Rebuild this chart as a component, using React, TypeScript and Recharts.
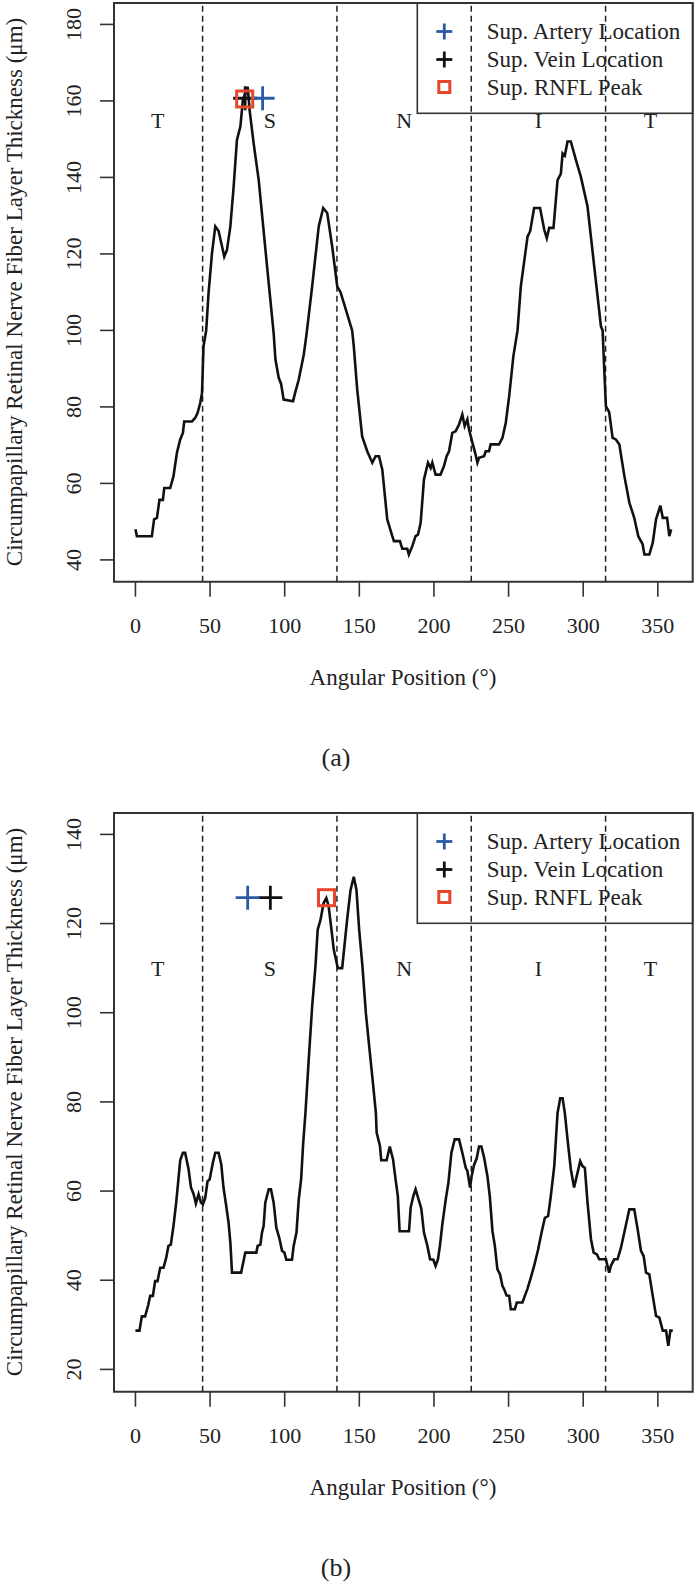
import { ComposedChart, Line, ReferenceArea, ReferenceLine, Scatter, XAxis, YAxis } from "recharts";

// angular position (deg), RNFL thickness (um)
const PROFILE_A: [number, number][] = [
  [0, 48], [1, 46.2], [11, 46.2], [12.5, 50.6], [14.4, 51], [16.1, 55.7], [18.4, 55.7], [19.3, 58.8], [23.3, 58.8],
  [25.5, 61.9], [27.8, 68], [30, 71.5], [31.8, 73.2], [32.7, 76.2], [37.9, 76.2], [40, 77.1], [41.6, 78.4], [43.4, 81],
  [44.6, 83.6], [45.6, 95.8], [47.4, 100], [49, 109.8], [51.3, 120.2], [53.5, 127.2], [55.7, 126], [58, 122],
  [59.5, 119.3], [61.3, 121], [63.6, 127.2], [65.8, 137.6], [68, 149.8], [70.3, 153.3], [72, 160.2], [75.2, 163.7],
  [76.5, 157.6], [79.2, 148.9], [82.6, 139.3], [88.2, 116.7], [92.6, 99.3], [93.8, 92.4], [96, 87.6], [97.6, 86],
  [99.3, 81.9], [105.6, 81.5], [107.2, 84], [109.4, 87.1], [112.8, 93.7], [114.6, 98.9], [118.4, 111.5], [122.8, 127.2],
  [125.8, 132], [128.5, 130.7], [131.8, 122], [135.2, 111.5], [137.4, 110], [139.6, 107.2], [143, 102.8], [145.2, 100],
  [146.3, 95.8], [148.6, 84.5], [151.9, 72.3], [155.3, 68.4], [158.7, 65.4], [160.9, 67.1], [163.2, 67.1], [165.4, 63.6],
  [168.7, 50.6], [172.1, 46.2], [173.2, 44.9], [177.2, 44.9], [178.8, 42.9], [182.1, 42.9], [183.2, 41.4], [185.5, 43.6],
  [187.7, 46.2], [189.3, 46.6], [191.1, 49.7], [193.3, 61], [196, 65.4], [197.8, 64], [198.9, 65.4], [201.1, 62.3],
  [204.4, 62.3], [206.7, 64.5], [208.5, 67.1], [210.1, 68.4], [212.3, 73.2], [214.5, 73.6], [216.8, 75.4], [219, 78],
  [220.6, 75], [222.4, 76.7], [223.5, 74.1], [225.8, 70.6], [227.6, 68], [229.1, 65.4], [230.2, 66.7], [233.6, 67.1],
  [234.7, 68.4], [236.9, 68.4], [238, 70.2], [243.6, 70.2], [245.9, 71.9], [248.1, 75.8], [250.4, 82.8], [253.2, 93.2],
  [256, 100], [258.2, 111.5], [262.7, 124.5], [264.5, 126], [267.1, 132], [271.1, 132], [273.9, 126.3], [275.6, 124.1],
  [277.2, 126.8], [280.1, 126.8], [282.8, 139.3], [285, 140.9], [286.2, 146.3], [287.7, 145.7], [289.5, 149.4],
  [291.7, 149.4], [295.1, 144.6], [298.4, 140.2], [302.9, 132.4], [307.4, 116.7], [311.9, 101], [313, 100],
  [314.1, 89.7], [315.2, 80.2], [317.4, 78.6], [319.7, 71.9], [321.9, 71.5], [324.2, 70.2], [327.5, 62.1], [330.9, 55],
  [334.2, 51], [336.9, 46.2], [339.8, 44.1], [341, 41.4], [344.3, 41.4], [346.6, 44.5], [348.8, 50.6], [351.7, 54.2],
  [353.3, 51], [356.2, 51], [357.7, 46.2], [358.9, 48],
];

const PROFILE_B: [number, number][] = [
  [0, 28.7], [2.7, 28.7], [4.3, 31.9], [6.5, 31.9], [8.7, 34.6], [9.9, 36.5], [11.7, 36.5], [13.2, 39.8], [14.8, 39.8],
  [16.6, 42.8], [18.8, 42.8], [20.6, 45], [22.1, 47.7], [23.7, 48], [25.5, 52.2], [27.3, 57.4], [28.8, 62.6], [30, 66.9],
  [31.8, 68.6], [33.3, 68.6], [35.6, 64.9], [37.2, 60.8], [39, 59.3], [40.5, 57.2], [42.3, 59.3], [43.9, 57.4], [45.2, 57],
  [46.8, 58.5], [48.3, 62.2], [49.7, 62.6], [51.9, 66.4], [53.5, 68.6], [55.7, 68.6], [57.5, 66], [59, 60.8], [60.8, 56.7],
  [62.4, 52.9], [63.6, 48.4], [64.7, 41.7], [70.8, 41.7], [73.6, 46.2], [81, 46.2], [81.9, 47.7], [83.7, 48], [84.8, 50.7],
  [85.9, 52.2], [87, 57.4], [89.3, 60.4], [90.8, 60.4], [92.6, 57.4], [94.4, 51.8], [96.6, 49.2], [98.2, 46.6],
  [99.8, 46.2], [101.1, 44.6], [104.9, 44.6], [106, 47.7], [107.9, 50.7], [109.4, 58.1], [111, 62.6], [112.4, 70.8],
  [113.9, 77.5], [116.1, 89.5], [118.4, 101.4], [120.6, 110.4], [122.1, 118.6], [123.9, 120.7], [126.1, 124.6],
  [127.9, 125.7], [129.4, 124], [131.1, 119.3], [132.9, 114.1], [135.6, 110], [138.5, 110], [141.8, 120.8],
  [144.1, 127.5], [146.3, 130.5], [148.1, 127.5], [149.9, 118.6], [152.1, 110.4], [154.4, 99.9], [156.6, 92.5],
  [158.9, 85], [161.1, 77.5], [161.6, 73.1], [163.8, 70.2], [164.7, 66.9], [168.3, 66.9], [170.4, 70], [172.6, 67.1],
  [174.3, 62.6], [175.8, 58.9], [177, 51], [183.3, 51], [184.4, 56.3], [186.2, 58.9], [187.7, 60.4], [190, 57.8],
  [191.5, 56.1], [193.3, 50.7], [195.6, 47.7], [197.4, 44.7], [199.6, 44.6], [201.1, 43.2], [202.7, 44.7], [204, 47.7],
  [205.6, 52.5], [207.9, 58.1], [209.7, 61.9], [211.7, 68.6], [213.9, 71.6], [216.8, 71.6], [219, 68.6], [221.3, 65.2],
  [222.4, 64.5], [224.2, 60.8], [225.3, 63.4], [226.8, 65.8], [228.6, 67.3], [230.2, 70], [231.8, 70], [233.6, 67.5],
  [235.8, 63.4], [237.4, 58.9], [239.2, 51], [240.8, 47.7], [242.5, 42.5], [244.3, 41.3], [245.9, 38.7], [247, 38],
  [248.6, 36.6], [250.4, 36.5], [251.5, 33.5], [254.2, 33.5], [255.5, 35], [259.3, 35], [260.9, 36.5], [262.7, 38.1],
  [264.9, 40.6], [267.1, 43.2], [269.8, 46.9], [272.1, 50.7], [274.3, 54], [276.5, 54.4], [278.3, 58.9], [280.6, 65.6],
  [282.8, 77.5], [284.6, 80.8], [286.2, 80.8], [287.7, 77.5], [289.5, 71.6], [291.7, 64.9], [293.9, 60.8], [295.7, 63.4],
  [298, 66.7], [299.5, 65.6], [301.1, 65.2], [302.9, 57.4], [305.2, 49.2], [307, 46.2], [309.2, 45.8], [310.7, 44.7],
  [315.2, 44.7], [316.3, 43.2], [317.4, 41.7], [318.5, 43.2], [320.8, 44.7], [323, 44.7], [325.3, 47.3], [328.7, 52.5],
  [330.9, 55.9], [334.2, 55.9], [336.5, 51.4], [338.7, 46.6], [340.5, 45.4], [342.1, 41.7], [344.3, 41.3], [346.6, 36.5],
  [348.8, 32], [351, 31.6], [353.3, 28.7], [355.5, 28.7], [357, 25.3], [358.4, 28.7], [360, 28.7],
];

const SECTOR_BOUNDS = [45, 135, 225, 315];
const SECTOR_NAMES = ["T", "S", "N", "I", "T"];
const SECTOR_NAME_X = [15, 90, 180, 270, 345];
const X_TICKS = [0, 50, 100, 150, 200, 250, 300, 350];
const X_DOMAIN: [number, number] = [-14.36, 373.36];

const Y_TICKS_A = [40, 60, 80, 100, 120, 140, 160, 180];
const Y_DOMAIN_A: [number, number] = [34.3, 185.6];
const SECTOR_NAME_Y_A = 155;
const ARTERY_A: [number, number] = [85.2, 160.7];
const VEIN_A: [number, number] = [73.5, 160.7];
const PEAK_A: [number, number] = [73.2, 160.5];

const Y_TICKS_B = [20, 40, 60, 80, 100, 120, 140];
const Y_DOMAIN_B: [number, number] = [15, 144.8];
const SECTOR_NAME_Y_B = 110;
const ARTERY_B: [number, number] = [75.2, 125.8];
const VEIN_B: [number, number] = [90.4, 125.8];
const PEAK_B: [number, number] = [128, 125.8];

const LEGEND_LABELS = ["Sup. Artery Location", "Sup. Vein Location", "Sup. RNFL Peak"];

const FONT = '"Liberation Serif", "DejaVu Serif", serif';
const BLUE = "#2a5aa6";
const RED = "#e4472b";
const INK = "#111";

function Plus({ cx, cy, color, size = 12 }: { cx: number; cy: number; color: string; size?: number }) {
  return (
    <g stroke={color} strokeWidth={2.8}>
      <line x1={cx - size} x2={cx + size} y1={cy} y2={cy} />
      <line x1={cx} x2={cx} y1={cy - size} y2={cy + size} />
    </g>
  );
}

function Square({ cx, cy, size = 8 }: { cx: number; cy: number; size?: number }) {
  return <rect x={cx - size} y={cy - size} width={size * 2} height={size * 2} fill="none" stroke={RED} strokeWidth={3} />;
}

type PanelProps = {
  top: number;
  profile: [number, number][];
  yDomain: [number, number];
  yTicks: number[];
  nameY: number;
  artery: [number, number];
  vein: [number, number];
  peak: [number, number];
  caption: string;
};

function Panel({ top, profile, yDomain, yTicks, nameY, artery, vein, peak, caption }: PanelProps) {
  const data = profile.map(([x, y]) => ({ x, y }));
  const names = SECTOR_NAMES.map((name, i) => ({ x: SECTOR_NAME_X[i], y: nameY, name }));
  const legendRows = [31.5, 59.5, 87];
  return (
    <div style={{ position: "absolute", left: 0, top, width: 696, height: 780 }}>
      <ComposedChart width={696} height={700} data={data} margin={{ top: 3, right: 3.3, left: 0, bottom: 0 }}>
        <XAxis
          dataKey="x"
          type="number"
          domain={X_DOMAIN}
          allowDataOverflow
          ticks={X_TICKS}
          interval={0}
          height={118.3}
          tickSize={15}
          axisLine={false}
          tickLine={{ stroke: "#333", strokeWidth: 1.6 }}
          tick={(p: any) => (
            <text x={p.x} y={625} textAnchor="middle" dominantBaseline="central" fontFamily={FONT} fontSize={22} fill="#222">
              {p.payload.value}
            </text>
          )}
        />
        <YAxis
          dataKey="y"
          type="number"
          domain={yDomain}
          allowDataOverflow
          ticks={yTicks}
          interval={0}
          width={114}
          tickSize={14}
          axisLine={false}
          tickLine={{ stroke: "#333", strokeWidth: 1.6 }}
          tick={(p: any) => (
            <text
              x={74}
              y={p.y}
              transform={`rotate(-90 74 ${p.y})`}
              textAnchor="middle"
              dominantBaseline="central"
              fontFamily={FONT}
              fontSize={22}
              fill="#222"
            >
              {p.payload.value}
            </text>
          )}
        />
        {SECTOR_BOUNDS.map((b) => (
          <ReferenceLine key={b} x={b} stroke="#222" strokeWidth={1.5} strokeDasharray="6 4" />
        ))}
        <Line dataKey="y" type="linear" stroke={INK} strokeWidth={2.6} dot={false} isAnimationActive={false} />
        <Scatter
          data={names}
          isAnimationActive={false}
          shape={(p: any) => (
            <text x={p.cx} y={p.cy} textAnchor="middle" dominantBaseline="central" fontFamily={FONT} fontSize={22} fill="#222">
              {p.payload?.name ?? p.name}
            </text>
          )}
        />
        <Scatter data={[{ x: vein[0], y: vein[1] }]} isAnimationActive={false} shape={(p: any) => <Plus cx={p.cx} cy={p.cy} color={INK} />} />
        <Scatter data={[{ x: artery[0], y: artery[1] }]} isAnimationActive={false} shape={(p: any) => <Plus cx={p.cx} cy={p.cy} color={BLUE} />} />
        <Scatter data={[{ x: peak[0], y: peak[1] }]} isAnimationActive={false} shape={(p: any) => <Square cx={p.cx} cy={p.cy} />} />
        <ReferenceArea x1={X_DOMAIN[0]} x2={X_DOMAIN[1]} y1={yDomain[0]} y2={yDomain[1]} fill="none" stroke="#333" strokeWidth={2} />
      </ComposedChart>
      <svg width={696} height={780} style={{ position: "absolute", left: 0, top: 0, pointerEvents: "none" }} fontFamily={FONT}>
        <rect x={417.3} y={3} width={275.4} height={110.3} fill="none" stroke="#333" strokeWidth={1.6} />
        <Plus cx={444.3} cy={legendRows[0]} color={BLUE} size={8} />
        <Plus cx={444.3} cy={legendRows[1]} color={INK} size={8} />
        <Square cx={444.3} cy={legendRows[2]} size={5.5} />
        {LEGEND_LABELS.map((label, i) => (
          <text key={label} x={486.7} y={legendRows[i]} dominantBaseline="central" fontSize={23} fill="#222">
            {label}
          </text>
        ))}
        <text x={403} y={677} textAnchor="middle" dominantBaseline="central" fontSize={23} fill="#222">
          Angular Position (°)
        </text>
        <text
          x={14}
          y={292}
          transform="rotate(-90 14 292)"
          textAnchor="middle"
          dominantBaseline="central"
          fontSize={23}
          fill="#222"
        >
          Circumpapillary Retinal Nerve Fiber Layer Thickness (μm)
        </text>
        <text x={336} y={757} textAnchor="middle" dominantBaseline="central" fontSize={26} fill="#222">
          {caption}
        </text>
      </svg>
    </div>
  );
}

export default function App() {
  return (
    <div style={{ position: "absolute", left: 0, top: 0, width: 696, height: 1582, background: "#fff" }}>
      <Panel
        top={0}
        profile={PROFILE_A}
        yDomain={Y_DOMAIN_A}
        yTicks={Y_TICKS_A}
        nameY={SECTOR_NAME_Y_A}
        artery={ARTERY_A}
        vein={VEIN_A}
        peak={PEAK_A}
        caption="(a)"
      />
      <Panel
        top={809.7}
        profile={PROFILE_B}
        yDomain={Y_DOMAIN_B}
        yTicks={Y_TICKS_B}
        nameY={SECTOR_NAME_Y_B}
        artery={ARTERY_B}
        vein={VEIN_B}
        peak={PEAK_B}
        caption="(b)"
      />
    </div>
  );
}
